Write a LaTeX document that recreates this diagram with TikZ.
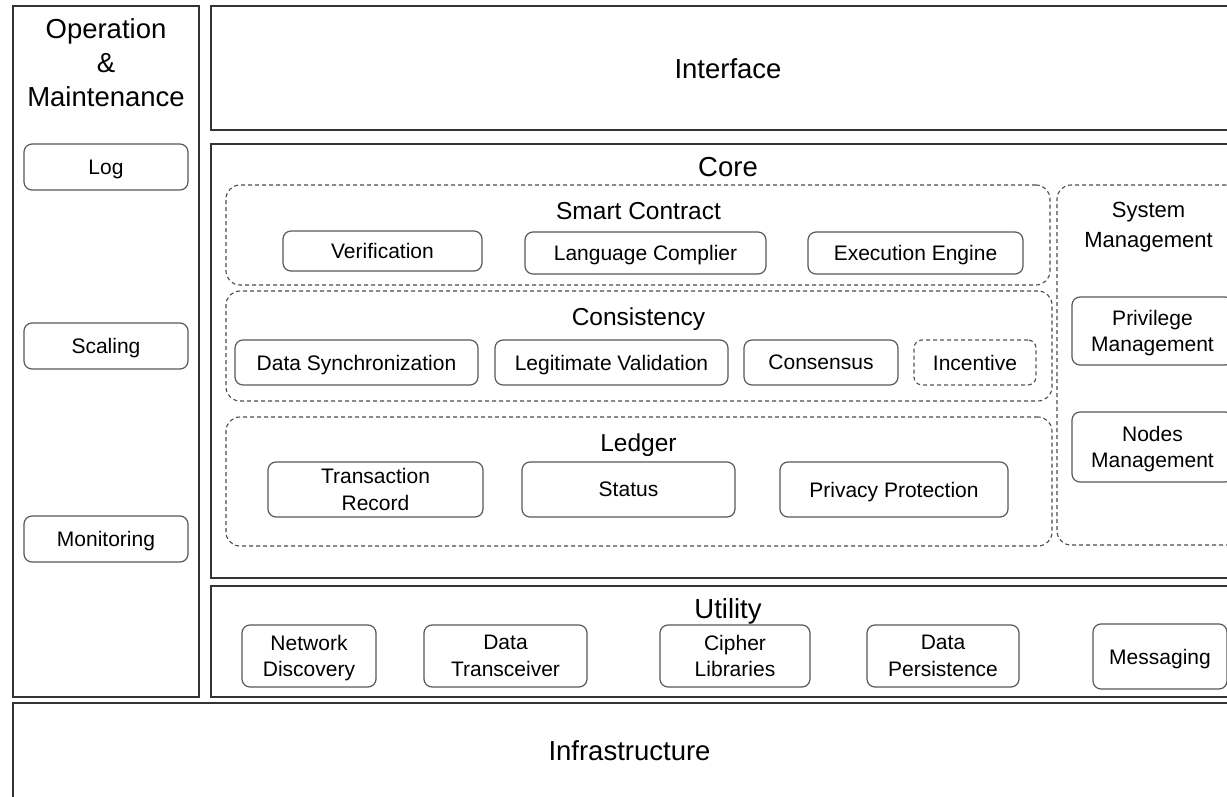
\documentclass[tikz,border=0pt]{standalone}
\usepackage{fontspec}
\setmainfont{Liberation Sans}
\begin{document}
\begin{tikzpicture}[x=1pt,y=-1pt,
  outer/.style={draw=black!80, line width=1.3pt, rectangle, inner sep=0pt},
  rbox/.style={draw=black!65, line width=1.2pt, rectangle, rounded corners=8pt, inner sep=0pt, align=center, text depth=0pt, font=\fontsize{21}{26.5}\selectfont},
  dbox/.style={rbox, dash pattern=on 4pt off 3pt},
  grp/.style={draw=black!70, line width=1.1pt, rectangle, dash pattern=on 4pt off 3pt, rounded corners=14pt, inner sep=0pt},
  big/.style={font=\fontsize{27.5}{34}\selectfont, align=center, inner sep=0pt, text depth=0pt},
  mid/.style={font=\fontsize{24.5}{30}\selectfont, align=center, inner sep=0pt, text depth=0pt},
  sys/.style={font=\fontsize{22}{30}\selectfont, align=center, inner sep=0pt, text depth=0pt},
]
\useasboundingbox (0,0) rectangle (1227,797);
\clip (0,0) rectangle (1227,797);
\fill[white] (0,0) rectangle (1227,797);

% outer layers
\node[outer, minimum width=186, minimum height=691] (om) at (106,351.5) {};
\node[big] (omt) at (106,63) {Operation\\\&\\Maintenance};
\node[outer, minimum width=1034, minimum height=124] (iface) at (728,68) {};
\node[big] (ifacet) at (728,69) {Interface};
\node[outer, minimum width=1034, minimum height=434] (core) at (728,361) {};
\node[big] (coret) at (728,167) {Core};
\node[outer, minimum width=1034, minimum height=111] (util) at (728,641.5) {};
\node[big] (utilt) at (728,609) {Utility};
\node[outer, minimum width=1232, minimum height=96] (infra) at (629,751) {};
\node[big] (infrat) at (629.5,751) {Infrastructure};

% operation & maintenance
\node[rbox, minimum width=164, minimum height=46] (log) at (106,167) {Log};
\node[rbox, minimum width=164, minimum height=46] (scal) at (106,346) {Scaling};
\node[rbox, minimum width=164, minimum height=46] (mon) at (106,539) {Monitoring};

% smart contract
\node[grp, minimum width=824, minimum height=100] (sc) at (638,235) {};
\node[mid] (sct) at (638.5,211) {Smart Contract};
\node[rbox, minimum width=199, minimum height=40] (ver) at (382.5,251) {Verification};
\node[rbox, minimum width=241, minimum height=42] (lang) at (645.5,253) {Language Complier};
\node[rbox, minimum width=215, minimum height=42] (exe) at (915.5,253) {Execution Engine};

% consistency
\node[grp, minimum width=826, minimum height=110] (cons) at (639,346) {};
\node[mid] (const) at (638.5,317) {Consistency};
\node[rbox, minimum width=243, minimum height=45] (ds) at (356.5,362.5) {Data Synchronization};
\node[rbox, minimum width=233, minimum height=45] (lv) at (611.5,362.5) {Legitimate Validation};
\node[rbox, minimum width=154, minimum height=45] (cs) at (821,362.5) {Consensus};
\node[dbox, minimum width=122, minimum height=45] (inc) at (975,362.5) {Incentive};

% ledger
\node[grp, minimum width=826, minimum height=129] (ledg) at (639,481.5) {};
\node[mid] (ledgt) at (638.5,443) {Ledger};
\node[rbox, minimum width=215, minimum height=55] (tr) at (375.5,489.5) {Transaction\\Record};
\node[rbox, minimum width=213, minimum height=55] (st) at (628.5,489.5) {Status};
\node[rbox, minimum width=228, minimum height=55] (pp) at (894,489.5) {Privacy Protection};

% system management
\node[grp, minimum width=183, minimum height=360] (sysm) at (1148.5,365) {};
\node[sys] (sysmt) at (1148.5,225) {System\\Management};
\node[rbox, minimum width=161, minimum height=68] (priv) at (1152.5,331) {Privilege\\Management};
\node[rbox, minimum width=161, minimum height=70] (nodes) at (1152.5,447) {Nodes\\Management};

% utility
\node[rbox, minimum width=134, minimum height=62] (nd) at (309,656) {Network\\Discovery};
\node[rbox, minimum width=163, minimum height=62] (dt) at (505.5,656) {Data\\Transceiver};
\node[rbox, minimum width=150, minimum height=62] (cl) at (735,656) {Cipher\\Libraries};
\node[rbox, minimum width=152, minimum height=62] (dp) at (943,656) {Data\\Persistence};
\node[rbox, minimum width=134, minimum height=65] (msg) at (1160,656.5) {Messaging};
\end{tikzpicture}
\end{document}
